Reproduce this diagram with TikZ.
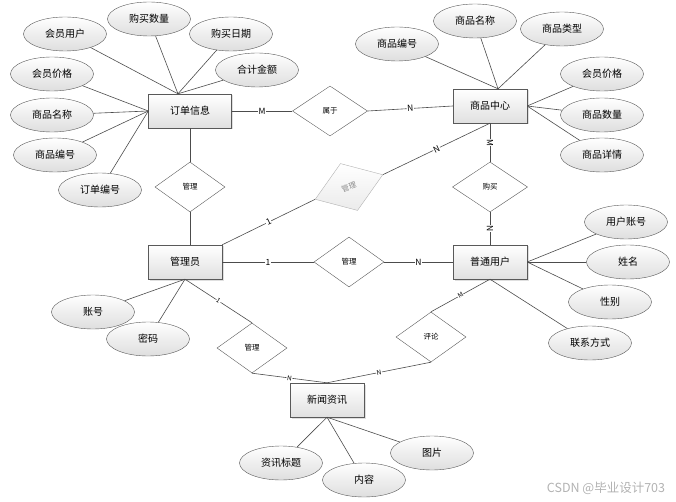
\documentclass[tikz,border=0pt]{standalone}
\usepackage{fontspec}
\setmainfont{Noto Sans CJK SC}
\usepackage{tikz}
\usetikzlibrary{shapes.geometric,shadows}

\begin{document}
\begin{tikzpicture}[x=1pt,y=-1pt,
	entity/.style={draw=black!65,rectangle,minimum width=74pt,minimum height=34pt,inner sep=0pt,
		top color=white,bottom color=black!12,font=\fontsize{10}{12}\selectfont,
		drop shadow={opacity=.25,shadow xshift=1.5pt,shadow yshift=-1.5pt}},
	attr/.style={draw=black!65,ellipse,minimum width=83pt,minimum height=34pt,inner sep=0pt,
		top color=white,bottom color=black!13,font=\fontsize{10}{12}\selectfont},
	rel/.style={draw=black!65,diamond,minimum width=70pt,minimum height=50pt,inner sep=0pt,
		fill=white,font=\fontsize{7.5}{9}\selectfont},
	link/.style={draw=black!70,line width=.6pt},
	card/.style={midway,sloped,fill=white,inner sep=.5pt,font=\fontsize{8.5}{9}\selectfont},
	smallcard/.style={card,font=\fontsize{6.5}{7}\selectfont}]

	\useasboundingbox (0,0) rectangle (676,502);

	\node[entity,minimum width=83pt] (order) at (190,111) {订单信息};
	\node[entity] (prod) at (490,106) {商品中心};
	\node[entity] (admin) at (185,262) {管理员};
	\node[entity] (user) at (490,262) {普通用户};
	\node[entity] (news) at (327,400) {新闻资讯};

	\node[rel,minimum width=75pt] (belong) at (330,111) {属于};
	\node[rel] (mgrA) at (190,187) {管理};
	\node[rel,draw=black!30,text=black!45,top color=white,bottom color=black!8,rotate=20,minimum width=72pt] (mgrB) at (349,187) {管理};
	\node[rel,minimum width=75pt] (buy) at (490,187) {购买};
	\node[rel] (mgrC) at (349,262) {管理};
	\node[rel] (mgrD) at (252,348) {管理};
	\node[rel] (comment) at (431,337) {评论};

	\foreach \n/\x/\y/\t/\e in {
		oa/65/34/会员用户/order.125, ob/149/19/购买数量/order.125,
		oc/231/34/购买日期/order.125, od/257/70/合计金额/order.125,
		oe/52/74/会员价格/order.west, of/52/115/商品名称/order.west,
		og/55/155/商品编号/order.west, oh/100/190/订单编号/order.west,
		pa/397/44/商品编号/prod.65, pb/475/21/商品名称/prod.65,
		pc/562/29/商品类型/prod.65, pd/602/74/会员价格/prod.east,
		pe/602/115/商品数量/prod.east, pf/602/155/商品详情/prod.east,
		ua/626/222/用户账号/user.east, ub/628/262/姓名/user.east,
		uc/610/302/性别/user.east, ud/590/343/联系方式/user.south,
		aa/93/312/账号/admin.south, ab/148/339/密码/admin.south,
		na/281/463/资讯标题/news.south, nb/364/480/内容/news.south,
		nc/432/453/图片/news.south} {
		\node[attr] (\n) at (\x,\y) {\t};
		\draw[link] (\n) -- (\e);
	}

	\draw[link] (order.east) -- node[card] {M} (belong.west);
	\draw[link] (belong.east) -- node[card] {N} (prod.west);
	\draw[link] (order.south) -- (mgrA.north);
	\draw[link] (mgrA.south) -- (mgrA.south |- admin.north);
	\draw[link] (admin.north east) -- node[card] {1} (mgrB.west);
	\draw[link] (mgrB.east) -- node[card] {N} (prod.south);
	\draw[link] (prod.south) -- node[card] {M} (buy.north);
	\draw[link] (buy.south) -- node[card] {N} (user.north);
	\draw[link] (admin.east) -- node[card] {1} (mgrC.west);
	\draw[link] (mgrC.east) -- node[card] {N} (user.west);
	\draw[link] (admin.south) -- node[smallcard] {1} (mgrD.north);
	\draw[link] (mgrD.south) -- node[smallcard] {N} (news.north);
	\draw[link] (news.north) -- node[smallcard] {N} (comment.south);
	\draw[link] (comment.north) -- node[smallcard] {M} (user.south);

	\node[text=black!30,font=\fontsize{12.5}{14}\selectfont] (mark) at (606,488) {CSDN @毕业设计703};
\end{tikzpicture}
\end{document}
